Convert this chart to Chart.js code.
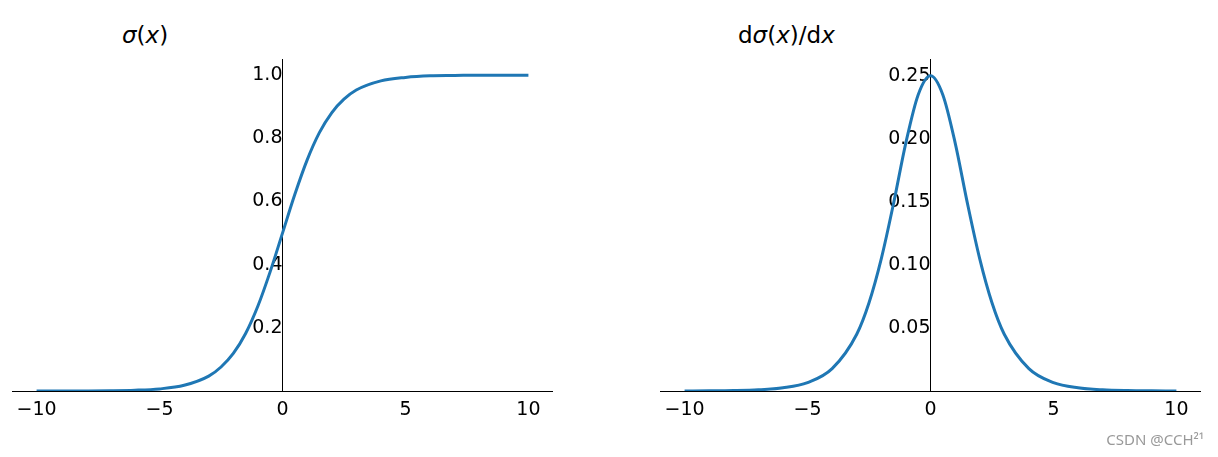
<!DOCTYPE html>
<html>
<head>
<meta charset="utf-8">
<script src="https://cdn.jsdelivr.net/npm/chart.js@4"></script>
<style>
body { margin: 0; width: 1218px; height: 457px; background: #fff; position: relative; font-family: "DejaVu Sans", sans-serif; overflow: hidden; }
.box { position: absolute; top: 45px; width: 541px; height: 390px; }
.title { position: absolute; font-size: 23px; color: #000; }
.wm { position: absolute; right: 14px; bottom: 8px; font-size: 15px; color: #999; font-family: "Noto Sans", sans-serif; }
</style>
</head>
<body>
<div class="title" style="left:122px;top:22px"><i>σ</i>(<i>x</i>)</div>
<div class="title" style="left:738px;top:22px">d<i>σ</i>(<i>x</i>)/d<i>x</i></div>
<div class="box" style="left:12px"><canvas id="sigCanvas"></canvas></div>
<div class="box" style="left:660px"><canvas id="derCanvas"></canvas></div>
<div class="wm">CSDN @CCH²¹</div>
<script>
// values
const xs = [-10, -9, -8, -7, -6, -5, -4, -3, -2.5, -2, -1.5, -1, -0.5, 0, 0.5, 1, 1.5, 2, 2.5, 3, 4, 5, 6, 7, 8, 9, 10];
const sigmaValues = [0.00005, 0.0001, 0.0003, 0.0009, 0.0025, 0.0067, 0.018, 0.047, 0.076, 0.119, 0.182, 0.269, 0.378, 0.5, 0.622, 0.731, 0.818, 0.881, 0.924, 0.953, 0.982, 0.993, 0.998, 0.999, 1.0, 1.0, 1.0];
const derivValues = [0.00005, 0.0001, 0.0003, 0.0009, 0.0025, 0.0066, 0.0177, 0.045, 0.070, 0.105, 0.149, 0.197, 0.235, 0.25, 0.235, 0.197, 0.149, 0.105, 0.070, 0.045, 0.0177, 0.0066, 0.0025, 0.0009, 0.0003, 0.0001, 0.00005];
const xTicks = [-10, -5, 0, 5, 10];
const sigmaTicks = [0.2, 0.4, 0.6, 0.8, 1.0];
const derivTicks = [0.05, 0.10, 0.15, 0.20, 0.25];

const fmtX = v => v < 0 ? '\u2212' + Math.abs(v) : String(v);

function makeChart(id, values, yTicks, yMax, digits) {
    new Chart(document.getElementById(id).getContext('2d'), {
        type: 'line',
        data: {
            datasets: [{
                data: xs.map((x, i) => ({ x: x, y: values[i] })),
                borderColor: '#1f77b4',
                borderWidth: 3,
                pointRadius: 0,
                cubicInterpolationMode: 'monotone',
                fill: false
            }]
        },
        options: {
            responsive: true,
            maintainAspectRatio: false,
            animation: false,
            layout: { padding: { top: 8, bottom: 44, left: 0, right: 0 } },
            plugins: { legend: { display: false }, tooltip: { enabled: false } },
            scales: {
                x: {
                    type: 'linear', min: -11, max: 11,
                    position: { y: 0 },
                    afterBuildTicks: s => { s.ticks = xTicks.map(v => ({ value: v })); },
                    grid: { display: false, drawTicks: true, tickLength: 5 },
                    border: { color: '#000', width: 1 },
                    ticks: { color: '#000', font: { family: 'DejaVu Sans', size: 19 }, callback: fmtX, maxRotation: 0 }
                },
                y: {
                    type: 'linear', min: 0, max: yMax,
                    position: { x: 0 },
                    afterBuildTicks: s => { s.ticks = yTicks.map(v => ({ value: v })); },
                    grid: { display: false, tickLength: 5 },
                    border: { color: '#000', width: 1 },
                    ticks: { color: '#000', font: { family: 'DejaVu Sans', size: 19 }, callback: v => v.toFixed(digits) }
                }
            }
        }
    });
}

makeChart('sigCanvas', sigmaValues, sigmaTicks, 1.05, 1);
makeChart('derCanvas', derivValues, derivTicks, 0.263, 2);
</script>
</body>
</html>
